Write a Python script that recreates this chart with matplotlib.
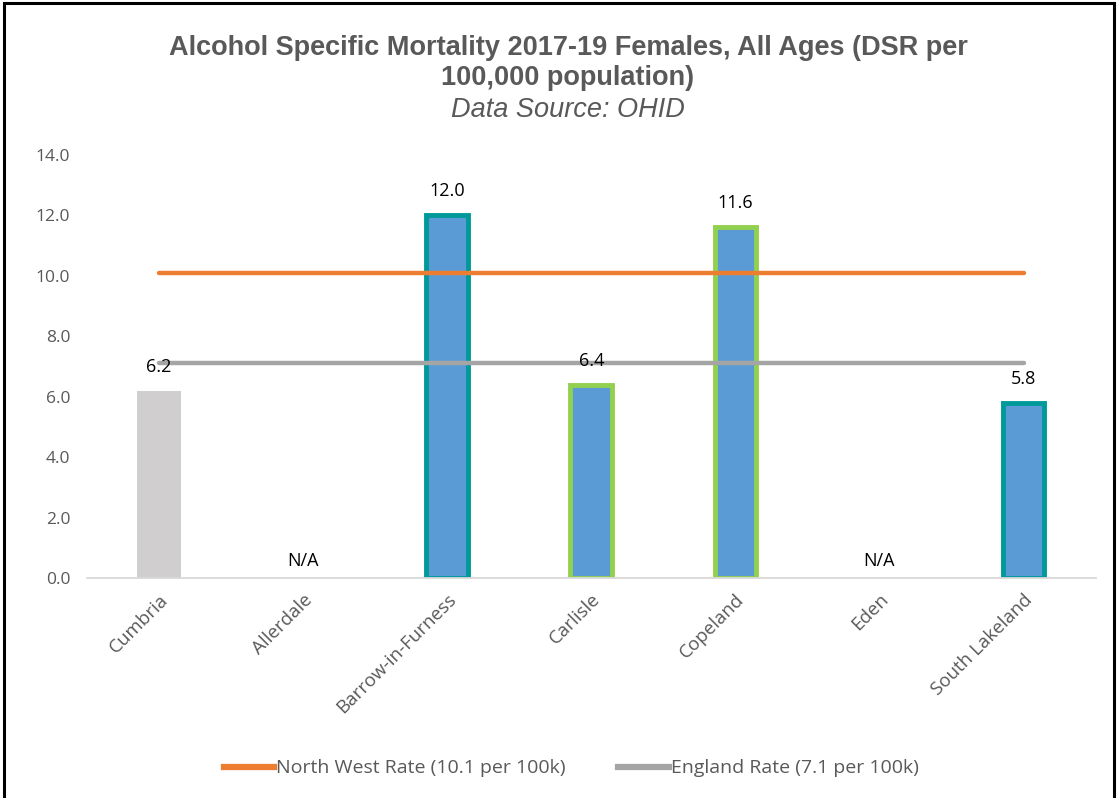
import matplotlib
matplotlib.use("Agg")
import matplotlib.pyplot as plt
from matplotlib.patches import Rectangle
from matplotlib.lines import Line2D
import numpy as np

categories = ["Cumbria", "Allerdale", "Barrow-in-Furness", "Carlisle", "Copeland", "Eden", "South Lakeland"]
values = [6.2, None, 12.0, 6.4, 11.6, None, 5.8]
fill_colors = ["#D0CECE", "#5B9BD5", "#5B9BD5", "#5B9BD5", "#5B9BD5", "#5B9BD5", "#5B9BD5"]
edge_colors = ["#D0CECE", "#009999", "#009999", "#92D050", "#92D050", "#009999", "#009999"]
north_west_rate = 10.1
england_rate = 7.1
yticks = [0.0, 2.0, 4.0, 6.0, 8.0, 10.0, 12.0, 14.0]

plt.rcParams['font.family'] = ['Open Sans', 'DejaVu Sans']
txt = "#595959"
title_family = ['Liberation Sans Narrow', 'Liberation Sans', 'DejaVu Sans']

fig = plt.figure(figsize=(11.18, 7.98), dpi=100)
ax = fig.add_axes([0.0778, 0.2757, 0.9022, 0.5301])

x = np.arange(len(categories))
for i, v in enumerate(values):
    if v is None:
        ax.text(i, 0.55, "N/A", ha="center", va="center", fontsize=13, color="#000000")
        continue
    lw = 0 if i == 0 else 3.5
    w = 0.31 if i == 0 else 0.29
    ax.bar(i, v, width=w, color=fill_colors[i], edgecolor=edge_colors[i], linewidth=lw, zorder=2)
    ax.text(i, v + 0.5, f"{v:.1f}", ha="center", va="bottom", fontsize=13, color="#000000", zorder=5)

ax.plot([x[0], x[-1]], [north_west_rate] * 2, color="#ED7D31", lw=3.2, solid_capstyle="round", zorder=3)
ax.plot([x[0], x[-1]], [england_rate] * 2, color="#A5A5A5", lw=3.2, solid_capstyle="round", zorder=3)

ax.set_xlim(-0.5, len(categories) - 0.5)
ax.set_ylim(0, 14)
ax.set_yticks(yticks)
ax.set_yticklabels([f"{t:.1f}" for t in yticks], fontsize=12.5, color=txt)
ax.set_xticks(x)
ax.set_xticklabels(categories, rotation=45, ha="right", rotation_mode="anchor", fontsize=13.5, color=txt)
ax.tick_params(axis="y", length=0, pad=12)
ax.tick_params(axis="x", length=0, pad=9)
for s in ["top", "right", "left"]:
    ax.spines[s].set_visible(False)
ax.spines["bottom"].set_color("#D9D9D9")
ax.spines["bottom"].set_linewidth(1.3)

fig.text(0.508, 0.921, "Alcohol Specific Mortality 2017-19 Females, All Ages (DSR per\n100,000 population)",
         ha="center", va="center", fontsize=19.5, fontweight="bold", color=txt, linespacing=1.2,
         family=title_family)
fig.text(0.508, 0.862, "Data Source: OHID", ha="center", va="center", fontsize=19.5, style="italic",
         color=txt, family=title_family)

handles = [Line2D([0], [0], color="#ED7D31", lw=4.5),
           Line2D([0], [0], color="#A5A5A5", lw=4.5)]
fig.legend(handles, ["North West Rate (10.1 per 100k)", "England Rate (7.1 per 100k)"],
           loc="center", bbox_to_anchor=(0.511, 0.037), ncol=2, frameon=False,
           fontsize=14, labelcolor=txt, handlelength=2.6, handletextpad=0.1, columnspacing=2.7)

fig.patches.append(Rectangle((0.004, -0.01), 0.992, 1.006, transform=fig.transFigure,
                             fill=False, edgecolor="black", linewidth=2.2))

fig.savefig("out.png", dpi=100)
